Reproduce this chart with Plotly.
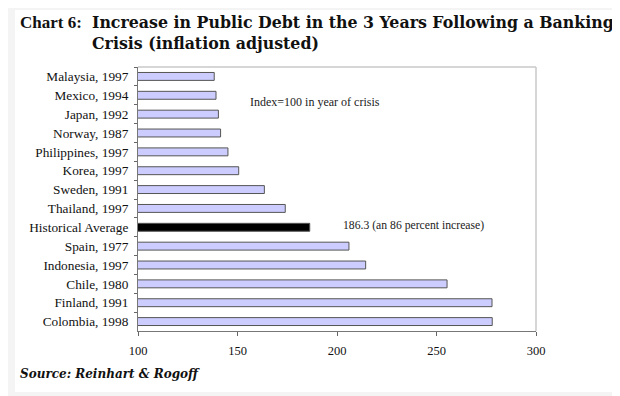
import plotly.graph_objects as go

categories = ["Malaysia, 1997", "Mexico, 1994", "Japan, 1992", "Norway, 1987",
              "Philippines, 1997", "Korea, 1997", "Sweden, 1991", "Thailand, 1997",
              "Historical Average", "Spain, 1977", "Indonesia, 1997", "Chile, 1980",
              "Finland, 1991", "Colombia, 1998"]
values = [138.3, 139.2, 140.4, 141.5, 145.2, 150.6, 163.5, 174.0,
          186.3, 206.0, 214.4, 255.3, 277.9, 278.0]
x_ticks = [100, 150, 200, 250, 300]

colors = ["#000000" if c == "Historical Average" else "#ccccff" for c in categories]

SERIF = "Liberation Serif, Times New Roman, serif"
TITLE_FONT = "DejaVu Serif, Georgia, serif"

# figure geometry (page body has an 8px margin, so figure is 612x388)
W, H = 612, 388
L, R, T, B = 130, 84, 59, 65
PW, PH = W - L - R, H - T - B


def px(x):  # page x pixel -> paper x
    return (x - 8 - L) / PW


def py(y):  # page y pixel -> paper y
    return (H - B - (y - 8)) / PH


fig = go.Figure()
fig.add_trace(go.Bar(
    y=categories, x=values, base=0, orientation="h",
    marker=dict(color=colors, line=dict(color="#555555", width=1)),
    width=0.42, showlegend=False, hoverinfo="skip",
))

fig.update_layout(
    width=W, height=H,
    margin=dict(l=L, r=R, t=T, b=B, autoexpand=False),
    paper_bgcolor="#f4f4f4",
    plot_bgcolor="white",
    font=dict(family=SERIF, color="#111111", size=13),
    xaxis=dict(range=[100, 300], tickvals=x_ticks, ticks="outside", ticklen=4,
               tickcolor="#666666", showline=True, linecolor="#777777", linewidth=1,
               showgrid=False, zeroline=False, mirror=False, ticklabelstandoff=4,
               tickfont=dict(size=12.5)),
    yaxis=dict(autorange="reversed", tickson="boundaries", ticks="outside", ticklen=3,
               tickcolor="#666666", showline=True, linecolor="#777777", linewidth=1,
               showgrid=False, ticklabelstandoff=6, tickfont=dict(size=13.3)),
    shapes=[
        dict(type="rect", xref="paper", yref="paper", x0=px(15), x1=px(614),
             y0=py(392), y1=py(10), fillcolor="white",
             line=dict(width=0), layer="below"),
        dict(type="line", xref="paper", yref="paper", x0=0, x1=1, y0=1, y1=1,
             line=dict(color="#c8c8c8", width=1.5)),
        dict(type="line", xref="paper", yref="paper", x0=1, x1=1, y0=0, y1=1,
             line=dict(color="#c8c8c8", width=1.5)),
    ],
    annotations=[
        dict(text="<b>Chart 6:</b>", xref="paper", yref="paper",
             x=px(18), y=py(22), xanchor="left", yanchor="middle",
             showarrow=False, font=dict(size=17, family=SERIF, color="#111111")),
        dict(text="<b>Increase in Public Debt in the 3 Years Following a Banking</b>",
             xref="paper", yref="paper", x=px(90), y=py(22),
             xanchor="left", yanchor="middle", showarrow=False,
             font=dict(size=15.8, family=TITLE_FONT, color="#111111")),
        dict(text="<b>Crisis (inflation adjusted)</b>",
             xref="paper", yref="paper", x=px(90), y=py(43),
             xanchor="left", yanchor="middle", showarrow=False,
             font=dict(size=15.8, family=TITLE_FONT, color="#111111")),
        dict(text="Index=100 in year of crisis", xref="paper", yref="paper",
             x=px(248), y=py(102), xanchor="left", yanchor="middle",
             showarrow=False, font=dict(size=12, family=SERIF, color="#222222")),
        dict(text="186.3 (an 86 percent increase)", xref="x", yref="y",
             x=values[categories.index("Historical Average")], y="Historical Average",
             xshift=31, yshift=2, xanchor="left", yanchor="middle",
             showarrow=False, font=dict(size=11.7, family=SERIF, color="#222222")),
        dict(text="<b><i>Source: Reinhart &amp; Rogoff</i></b>", xref="paper", yref="paper",
             x=px(18), y=py(374), xanchor="left", yanchor="middle",
             showarrow=False, font=dict(size=12, family=TITLE_FONT, color="#111111")),
    ],
)

fig.write_html("out.html")
